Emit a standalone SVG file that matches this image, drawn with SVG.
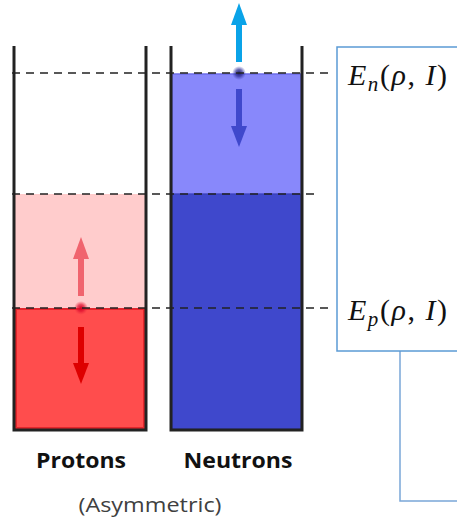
<svg xmlns="http://www.w3.org/2000/svg" width="457" height="520" viewBox="0 0 457 520">
<defs>
<radialGradient id="gb"><stop offset="0" stop-color="#1c1c70"/><stop offset="0.5" stop-color="#2a2a90" stop-opacity="0.7"/><stop offset="1" stop-color="#3a3ab0" stop-opacity="0"/></radialGradient>
<radialGradient id="gr"><stop offset="0" stop-color="#d00020"/><stop offset="0.5" stop-color="#e01030" stop-opacity="0.7"/><stop offset="1" stop-color="#f03040" stop-opacity="0"/></radialGradient>
</defs>
<style>
.wall{stroke:#222;stroke-width:3;fill:none}
.dash{stroke:#222;stroke-width:1.6;stroke-dasharray:8 6;fill:none}
.lbl{font-family:"Open Sans","Noto Sans",sans-serif;font-weight:bold;font-size:21px;fill:#111;text-anchor:middle}
.sub{font-family:"Open Sans","Noto Sans",sans-serif;font-size:20px;fill:#404040;text-anchor:middle}
.math{font-family:"Liberation Serif","DejaVu Serif",serif;font-size:30px;fill:#111}
.box{stroke:#5b9bd5;stroke-width:1.5;fill:none}
</style>
<rect width="457" height="520" fill="#fff"/>
<g id="protons">
<rect x="15" y="194" width="130" height="114" fill="#ffcccc"/>
<rect x="16" y="309" width="128" height="119" fill="#ff4d4d" stroke="#e4262c" stroke-width="2"/>
<path class="wall" d="M14 46 V430 H146 V46"/>
<rect x="78" y="259" width="6" height="37" fill="#f0646e"/>
<polygon points="73,259 89,259 81,237" fill="#f0646e"/>
<rect x="78" y="327" width="6" height="37" fill="#dd0000"/>
<polygon points="73,363 89,363 81,384" fill="#dd0000"/>
<circle cx="81" cy="308" r="7" fill="url(#gr)"/>
<text class="lbl" x="81" y="468" textLength="90" lengthAdjust="spacingAndGlyphs">Protons</text>
</g>
<g id="neutrons">
<rect x="172" y="74" width="129" height="120" fill="#8888fb" stroke="#6c6cea" stroke-width="1.5"/>
<rect x="172" y="194" width="129" height="235" fill="#3f48cc" stroke="#383fb5" stroke-width="1"/>
<path class="wall" d="M171 46 V430 H302 V46"/>
<rect x="236" y="24" width="6" height="38" fill="#0aa3e8"/>
<polygon points="231,25 247,25 239,3" fill="#0aa3e8"/>
<rect x="236" y="89" width="6" height="38" fill="#3f48cc"/>
<polygon points="231,126 247,126 239,147" fill="#3f48cc"/>
<circle cx="239" cy="73" r="7" fill="url(#gb)"/>
<text class="lbl" x="238" y="468" textLength="109" lengthAdjust="spacingAndGlyphs">Neutrons</text>
</g>
<text class="sub" x="150" y="512" textLength="143" lengthAdjust="spacingAndGlyphs">(Asymmetric)</text>
<g id="connectors">
<line class="dash" x1="12" y1="73" x2="330" y2="73"/>
<line class="dash" x1="12" y1="194" x2="318" y2="194"/>
<line class="dash" x1="12" y1="308" x2="330" y2="308"/>
<path d="M400 351 V501 H457" stroke="#7aa7d8" stroke-width="1.5" fill="none"/>
</g>
<g id="energy-box">
<rect class="box" x="337" y="47" width="130" height="304"/>
<text class="math" x="348" y="85" textLength="99" lengthAdjust="spacing"><tspan font-style="italic">E</tspan><tspan font-style="italic" font-size="21" dy="6">n</tspan><tspan dy="-6">(</tspan><tspan font-style="italic">ρ</tspan>, <tspan font-style="italic">I</tspan>)</text>
<text class="math" x="348" y="320" textLength="99" lengthAdjust="spacing"><tspan font-style="italic">E</tspan><tspan font-style="italic" font-size="21" dy="6">p</tspan><tspan dy="-6">(</tspan><tspan font-style="italic">ρ</tspan>, <tspan font-style="italic">I</tspan>)</text>
</g>
</svg>
